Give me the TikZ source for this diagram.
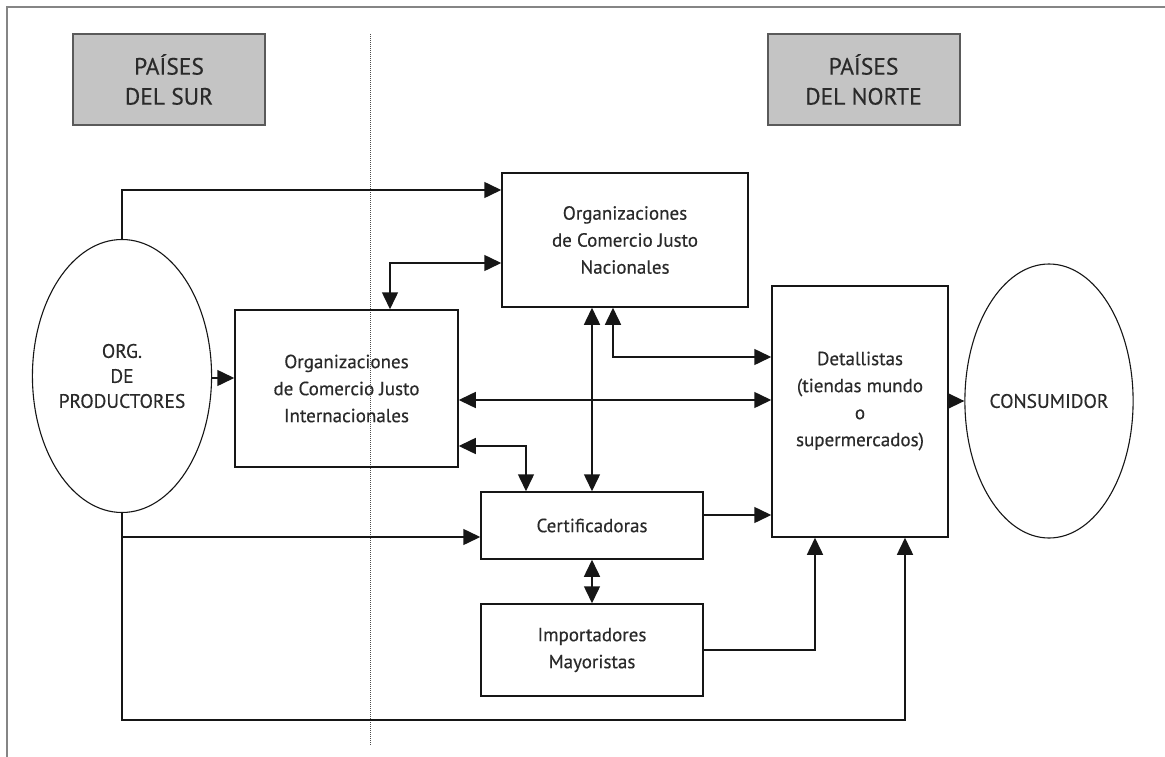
\documentclass[tikz,border=0pt]{standalone}
\usepackage{fontspec}
\setmainfont{PT Sans}[FakeBold=0.35]
\usetikzlibrary{arrows.meta,shapes.geometric,calc}
\definecolor{linec}{HTML}{161616}
\definecolor{txtc}{HTML}{2A2A2A}
\definecolor{hdrfill}{HTML}{C4C4C4}
\definecolor{hdrdraw}{HTML}{5A5A5A}
\definecolor{framec}{HTML}{858585}
\begin{document}
\begin{tikzpicture}[x=1pt,y=-1pt,
  box/.style={draw=linec,line width=1.5pt,rectangle,inner sep=0pt,align=center,
    font=\fontsize{19}{27}\selectfont,text=txtc},
  oval/.style={draw=linec,line width=1.1pt,ellipse,inner sep=0pt,align=center,
    font=\fontsize{19.5}{25}\selectfont,text=txtc},
  hdr/.style={draw=hdrdraw,fill=hdrfill,line width=2pt,rectangle,inner sep=0pt,
    align=center,font=\fontsize{23.5}{30}\selectfont,text=txtc,
    minimum width=192pt,minimum height=91pt},
  arr/.style={draw=linec,line width=1.5pt,-{Triangle[length=17pt,width=16pt]}},
  darr/.style={draw=linec,line width=1.5pt,{Triangle[length=17pt,width=16pt]}-{Triangle[length=17pt,width=16pt]}},
  frame/.style={draw=framec,line width=2.5pt},
  divider/.style={draw=gray!60!black,line width=0.8pt,dash pattern=on 1pt off 1pt}
]
\useasboundingbox (0,0) rectangle (1165,757);
\fill[white] (0,0) rectangle (1165,757);

% frame
\coordinate (fTL) at (7,7);
\coordinate (fTR) at (1165,7);
\coordinate (fBL) at (7,757);
\draw[frame] (fTR) -- (fTL) -- (fBL);

% divider
\coordinate (dTop) at (370,34);
\coordinate (dBot) at (370,745);
\draw[divider] (dTop) -- (dBot);

% headers
\node[hdr] (sur) at (169,79.5) {PAÍSES\\DEL SUR};
\node[hdr] (norte) at (863.5,79.5) {PAÍSES\\DEL NORTE};

% nodes
\node[oval,minimum width=150pt,minimum height=273pt] (prod) at (122,376) {ORG.\\DE\\PRODUCTORES};
\node[box,minimum width=223pt,minimum height=157pt] (intl) at (346.5,388.5) {Organizaciones\\de Comercio Justo\\Internacionales};
\node[box,minimum width=246pt,minimum height=134pt] (nac) at (625,240) {Organizaciones\\de Comercio Justo\\Nacionales};
\node[box,minimum width=176pt,minimum height=251pt] (det) at (860,411.5) {};
\node[align=center,inner sep=0pt,font=\fontsize{19}{27}\selectfont,text=txtc] (dettxt) at (860,401) {Detallistas\\(tiendas mundo\\o\\supermercados)};
\node[box,minimum width=222pt,minimum height=67pt] (cert) at (592,525.5) {Certificadoras};
\node[box,minimum width=222pt,minimum height=92pt] (imp) at (592,650) {Importadores\\Mayoristas};
\node[oval,minimum width=155pt,minimum height=274pt] (cons) at (1049,401) {CONSUMIDOR};

% helper coordinates
\coordinate (bot) at (0,720);
\coordinate (p3) at ([yshift=-2pt]prod.east);
\coordinate (p4) at ([yshift=-11.5pt]intl.east);
\coordinate (p5) at ([yshift=-57.5pt]intl.east);
\coordinate (p8) at ([yshift=10.5pt]cert.east);

% connectors
\draw[arr] (prod.north) |- ([yshift=50pt]nac.west);
\draw[darr] ([yshift=-23pt]nac.west) -| ([xshift=43.5pt]intl.north);
\draw[arr] (p3) -- (p3 -| intl.west);
\draw[darr] (p4) -- (p4 -| det.west);
\draw[darr] (p5) -| ([xshift=-66pt]cert.north);
\draw[darr] (nac.south -| cert.north) -- (cert.north);
\draw[darr] ([xshift=-12pt]nac.south) |- ([yshift=54.5pt]det.west);
\draw[arr] (p8) -- (p8 -| det.west);
\draw[arr] (prod.south) |- ([yshift=-11.5pt]cert.west);
\draw[darr] (cert.south) -- (imp.north);
\draw[arr] (imp.east) -| ([xshift=-45pt]det.south);
\draw[arr] (prod.south) -- (prod.south |- bot) -| ([xshift=45pt]det.south);
\draw[arr] (det.east |- cons.west) -- (cons.west);
\end{tikzpicture}
\end{document}
